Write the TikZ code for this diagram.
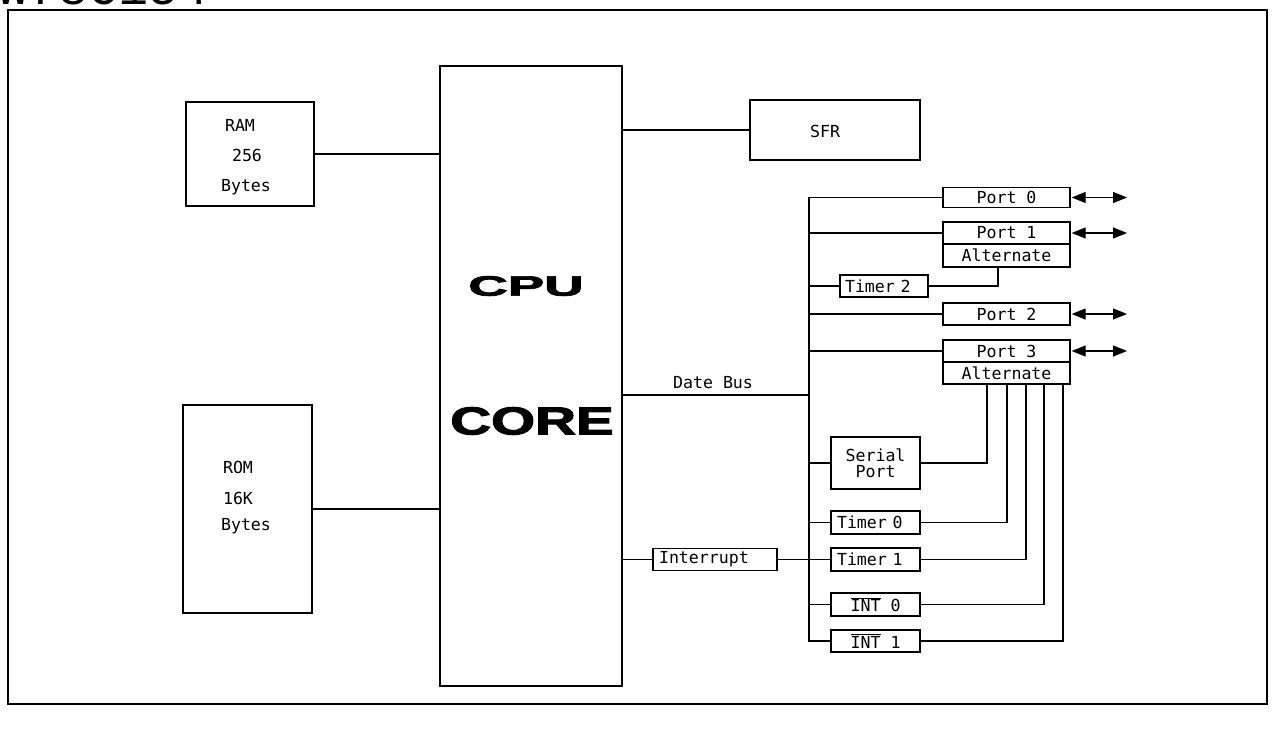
\documentclass[tikz,border=0pt]{standalone}
\usepackage{fontspec}
\setmainfont{DejaVu Sans Mono}
\newfontface\heavy{Liberation Sans Bold}[FakeBold=2.5]
\newfontfamily\topfont{Liberation Mono}
\usetikzlibrary{arrows.meta}
\begin{document}
\begin{tikzpicture}[x=1pt,y=-1pt,line width=1.3pt,
  lbl/.style={font=\fontsize{16.6}{17}\selectfont,inner sep=0pt},
  box/.style={draw,rectangle,inner sep=0pt,line width=1.3pt,font=\fontsize{16.6}{17}\selectfont},
  lbox/.style={box,align=left,inner xsep=6pt,text width=#1},
  io/.style={{Triangle[length=14pt,width=11pt]}-{Triangle[length=14pt,width=11pt]}}]
\useasboundingbox (0,0) rectangle (1276,735);
% title (cut at page top)
\node[font=\topfont\fontsize{50}{50}\selectfont,anchor=base west,inner sep=0pt] (title) at (-2,5) {W78C154};
% frame
\draw (8,10) rectangle (1267,704);
% left memories
\node[box,minimum width=128pt,minimum height=104pt] (ram) at (250,154) {};
\node[lbl] (ramA) at (240,125) {RAM};
\node[lbl] (ramB) at (247,155) {256};
\node[lbl] (ramC) at (246,187) {Bytes};
\node[box,minimum width=129pt,minimum height=208pt] (rom) at (247.5,509) {};
\node[lbl] (romA) at (238,467) {ROM};
\node[lbl] (romB) at (238,498) {16K};
\node[lbl] (romC) at (246,526) {Bytes};
% CPU
\node[box,minimum width=182pt,minimum height=620pt] (cpu) at (531,376) {};
\node[inner sep=0pt] (cpuA) at (526,286) {\heavy\fontsize{28}{28}\selectfont\scalebox{1.95}[1]{CPU}};
\node[inner sep=0pt] (cpuB) at (532,421) {\heavy\fontsize{39}{39}\selectfont\scalebox{1.45}[1]{CORE}};
% SFR
\node[box,minimum width=170pt,minimum height=60pt] (sfr) at (835,130) {};
\node[lbl] (sfrt) at (825,131) {SFR};
% ports
\node[box,minimum width=127pt,minimum height=20pt] (port0) at (1006.5,197.5) {Port 0};
\node[box,minimum width=127pt,minimum height=22pt] (port1) at (1006.5,233) {Port 1};
\node[box,minimum width=127pt,minimum height=23pt] (alt1) at (1006.5,255.5) {Alternate};
\node[box,minimum width=127pt,minimum height=22pt] (port2) at (1006.5,314) {Port 2};
\node[box,minimum width=127pt,minimum height=22pt] (port3) at (1006.5,351) {Port 3};
\node[box,minimum width=127pt,minimum height=22pt] (alt3) at (1006.5,373) {Alternate};
% peripherals
\node[lbox=78pt,inner xsep=5pt,minimum height=22pt] (timer2) at (884,286) {Timer 2};
\node[box,align=center,minimum width=89pt,minimum height=52pt] (serial) at (875.5,463) {Serial\\[-1pt]Port};
\node[lbox=77pt,minimum height=23pt] (timer0) at (875.5,522.5) {Timer 0};
\node[lbox=77pt,minimum height=23pt] (timer1) at (875.5,559.5) {Timer 1};
\node[box,minimum width=89pt,minimum height=23pt] (int0) at (875.5,604.5) {$\overline{\hbox{INT}}$ 0};
\node[box,minimum width=89pt,minimum height=22pt] (int1) at (875.5,641) {$\overline{\hbox{INT}}$ 1};
\node[lbox=112pt,minimum height=22pt] (intr) at (715,559.5) {Interrupt};
% connectors to CPU
\draw (ram.east) -- (ram.east -| cpu.west);
\draw (rom.east) -- (rom.east -| cpu.west);
\draw (sfr.west) -- (sfr.west -| cpu.east);
\coordinate (dbus) at (809,395);
\draw (cpu.east |- dbus) -- (dbus);
\node[lbl] (dbt) at (713,383) {Date Bus};
\draw (cpu.east |- intr.west) -- (intr.west);
\draw (intr.east) -- (timer1.west);
% bus
\coordinate (busbot) at (809,641);
\draw (port0.west) -| (busbot) -- (int1.west);
\draw (port1.west) -- (port1.west -| busbot);
\draw (timer2.west) -- (timer2.west -| busbot);
\draw (port2.west) -- (port2.west -| busbot);
\draw (port3.west) -- (port3.west -| busbot);
\draw (serial.west) -- (serial.west -| busbot);
\draw (timer0.west) -- (timer0.west -| busbot);
\draw (int0.west) -- (int0.west -| busbot);
% alternate functions
\draw ([xshift=-8.5pt]alt1.south) |- (timer2.east);
\draw ([xshift=-19.5pt]alt3.south) |- (serial.east);
\draw ([xshift=0.5pt]alt3.south) |- (timer0.east);
\draw ([xshift=19.5pt]alt3.south) |- (timer1.east);
\draw ([xshift=37.5pt]alt3.south) |- (int0.east);
\draw ([xshift=56.5pt]alt3.south) |- (int1.east);
% io arrows
\coordinate (e0) at (1127,197.5);
\coordinate (e1) at (1127,233);
\coordinate (e2) at (1127,314);
\coordinate (e3) at (1127,351);
\draw[io,line width=1.1pt,shorten <=1pt] (port0.east) -- (e0);
\draw[io,line width=1.1pt,shorten <=1pt] (port1.east) -- (e1);
\draw[io,line width=1.1pt,shorten <=1pt] (port2.east) -- (e2);
\draw[io,line width=1.1pt,shorten <=1pt] (port3.east) -- (e3);
\end{tikzpicture}
\end{document}
